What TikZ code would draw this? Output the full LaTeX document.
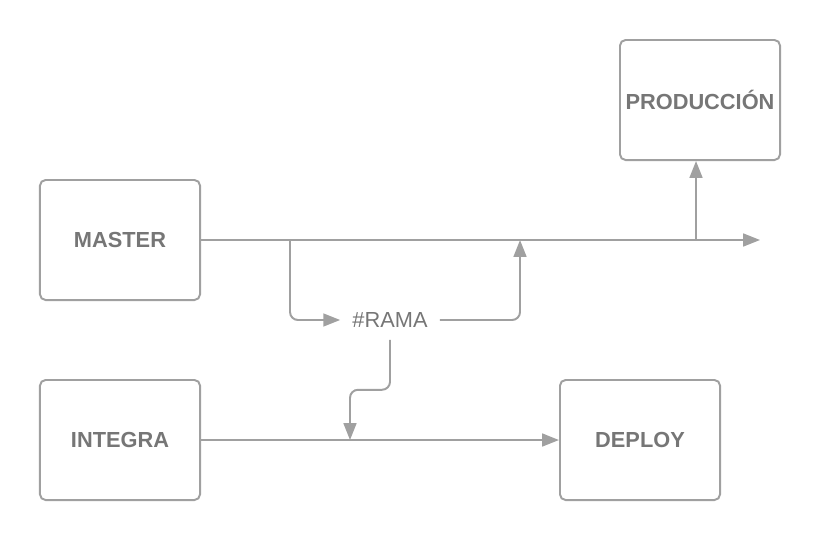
\documentclass[tikz,border=0pt]{standalone}
\usepackage{fontspec}
\setmainfont{Liberation Sans}
\usepackage{xcolor}
\usepackage{tikz}
\usetikzlibrary{arrows.meta, positioning}
\definecolor{linegray}{RGB}{160,160,160}
\definecolor{textgray}{RGB}{118,118,118}
\tikzset{
    box/.style={rectangle, rounded corners=4pt, minimum width=4cm, minimum height=3cm, text centered, draw=linegray, line width=1.4pt, text=textgray, font=\fontsize{15.5}{18}\selectfont\bfseries},
    tag/.style={rectangle, inner sep=0.3cm, text=textgray, font=\fontsize{15.5}{18}\selectfont},
    flow/.style={-{Triangle[length=0.42cm, width=0.32cm]}, draw=linegray, line width=1.4pt, rounded corners=0.2cm}
}
\begin{document}
\begin{tikzpicture}[x=0.025cm, y=-0.025cm]
    \useasboundingbox (0,0) rectangle (820,540);
    % Branches
    \node[box] (master) at (120,240) {MASTER};
    \node[box] (produccion) at (700,100) {PRODUCCIÓN};
    \node[box] (integra) at (120,440) {INTEGRA};
    \node[box] (deploy) at (640,440) {DEPLOY};
    \node[tag] (rama) at (390,320) {\#RAMA};
    
    % Points on the lines
    \coordinate (mainend) at (760,240);
    \coordinate (split) at (290,240);
    \coordinate (merge) at (520,240);
    \coordinate (prodfork) at (696,240);
    \coordinate (intjoin) at (350,440);
    
    % Flows
    \draw[flow] (master) -- (mainend);
    \draw[flow] (prodfork) -- (produccion.south -| prodfork);
    \draw[flow] (split) |- (rama.west);
    \draw[flow] (rama.east) -| (merge);
    \draw[flow] (rama.south) -- ++(0,50) -| (intjoin);
    \draw[flow] (integra) -- (deploy);
\end{tikzpicture}
\end{document}
